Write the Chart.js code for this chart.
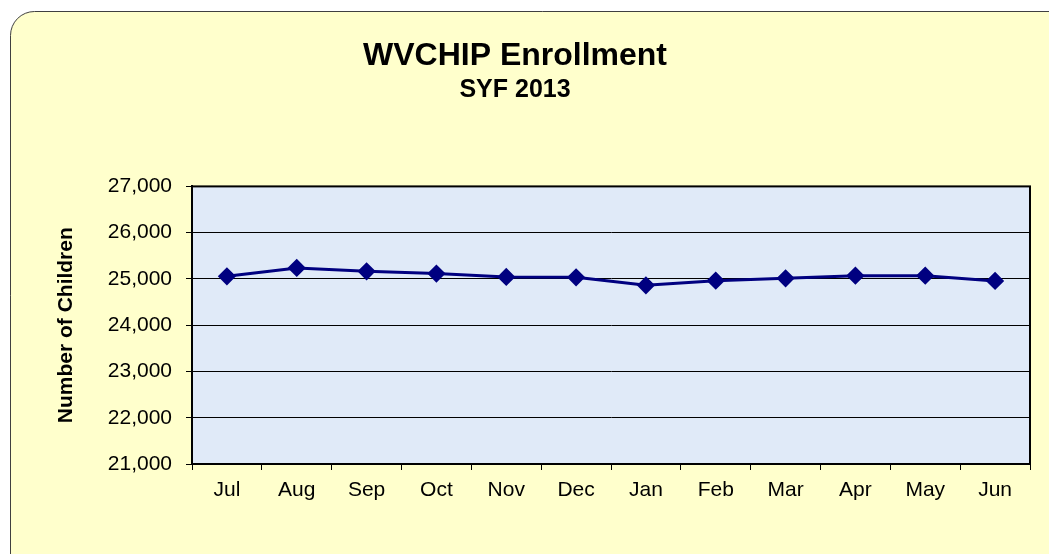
<!DOCTYPE html>
<html>
<head>
<meta charset="utf-8">
<title>WVCHIP Enrollment</title>
<script src="https://cdn.jsdelivr.net/npm/chart.js@4/dist/chart.umd.min.js"></script>
<style>
  html, body { margin: 0; padding: 0; background: #ffffff; }
  canvas { display: block; }
</style>
</head>
<body>
<canvas id="graficoMatriculas" width="1049" height="554"></canvas>
<script>
// Dados do gráfico
const meses = ['Jul', 'Aug', 'Sep', 'Oct', 'Nov', 'Dec', 'Jan', 'Feb', 'Mar', 'Apr', 'May', 'Jun'];
const matriculas = [25056, 25238, 25165, 25115, 25043, 25035, 24862, 24963, 25013, 25071, 25071, 24957];
const eixoMin = 21000;
const eixoMax = 27000;
const eixoPasso = 1000;

const fonte = 'Liberation Sans, Arial, sans-serif';

/**
 * Desenha o fundo amarelo arredondado e a área azul do gráfico
 */
const fundoPlugin = {
  id: 'fundo',
  beforeDraw: function(chart) {
    const ctx = chart.ctx;
    const area = chart.chartArea;
    ctx.save();
    ctx.fillStyle = '#ffffff';
    ctx.fillRect(0, 0, chart.width, chart.height);

    // moldura arredondada
    ctx.beginPath();
    ctx.roundRect(10.5, 11.5, chart.width + 40, chart.height + 40, 24);
    ctx.fillStyle = '#ffffcc';
    ctx.fill();
    ctx.lineWidth = 1;
    ctx.strokeStyle = '#404040';
    ctx.stroke();

    // área de plotagem
    ctx.fillStyle = '#e0eaf8';
    ctx.fillRect(area.left, area.top, area.right - area.left, area.bottom - area.top);
    ctx.restore();
  },
  beforeDatasetsDraw: function(chart) {
    const ctx = chart.ctx;
    const area = chart.chartArea;
    ctx.save();
    ctx.lineWidth = 2;
    ctx.strokeStyle = '#000000';
    ctx.strokeRect(area.left, area.top, area.right - area.left, area.bottom - area.top);
    ctx.restore();
  }
};

new Chart(document.getElementById('graficoMatriculas'), {
  type: 'line',
  data: {
    labels: meses,
    datasets: [{
      label: 'Enrollment',
      data: matriculas,
      borderColor: '#000080',
      backgroundColor: '#000080',
      borderWidth: 3,
      tension: 0,
      pointStyle: 'rectRot',
      pointRadius: 7,
      pointHoverRadius: 7,
      pointBackgroundColor: '#000080',
      pointBorderColor: '#000080'
    }]
  },
  options: {
    responsive: false,
    animation: false,
    layout: {
      padding: { left: 0, right: 19, top: 0, bottom: 0 }
    },
    plugins: {
      legend: { display: false },
      tooltip: { enabled: false },
      title: {
        display: true,
        text: 'WVCHIP Enrollment',
        color: '#000000',
        font: { family: fonte, size: 32, weight: 'bold' },
        padding: { top: 37, bottom: 0 }
      },
      subtitle: {
        display: true,
        text: 'SYF 2013',
        color: '#000000',
        font: { family: fonte, size: 25, weight: 'bold' },
        padding: { top: 0, bottom: 81 }
      }
    },
    scales: {
      x: {
        offset: true,
        afterFit: function(scale) { scale.height = 90; },
        grid: {
          offset: true,
          drawOnChartArea: false,
          drawTicks: true,
          tickLength: 6,
          color: '#000000',
          lineWidth: 1
        },
        border: { display: true, color: '#000000', width: 2 },
        ticks: {
          color: '#000000',
          padding: 8,
          maxRotation: 0,
          font: { family: fonte, size: 21 }
        }
      },
      y: {
        min: eixoMin,
        max: eixoMax,
        afterFit: function(scale) { scale.width = 192; },
        grid: {
          color: '#000000',
          lineWidth: 1,
          drawTicks: true,
          tickLength: 6
        },
        border: { display: true, color: '#000000', width: 2 },
        ticks: {
          stepSize: eixoPasso,
          color: '#000000',
          padding: 14,
          font: { family: fonte, size: 21 },
          callback: function(valor) { return valor.toLocaleString('en-US'); }
        },
        title: {
          display: true,
          text: 'Number of Children',
          color: '#000000',
          font: { family: fonte, size: 21, weight: 'bold' },
          padding: { top: 54, bottom: 0 }
        }
      }
    }
  },
  plugins: [fundoPlugin]
});
</script>
</body>
</html>
